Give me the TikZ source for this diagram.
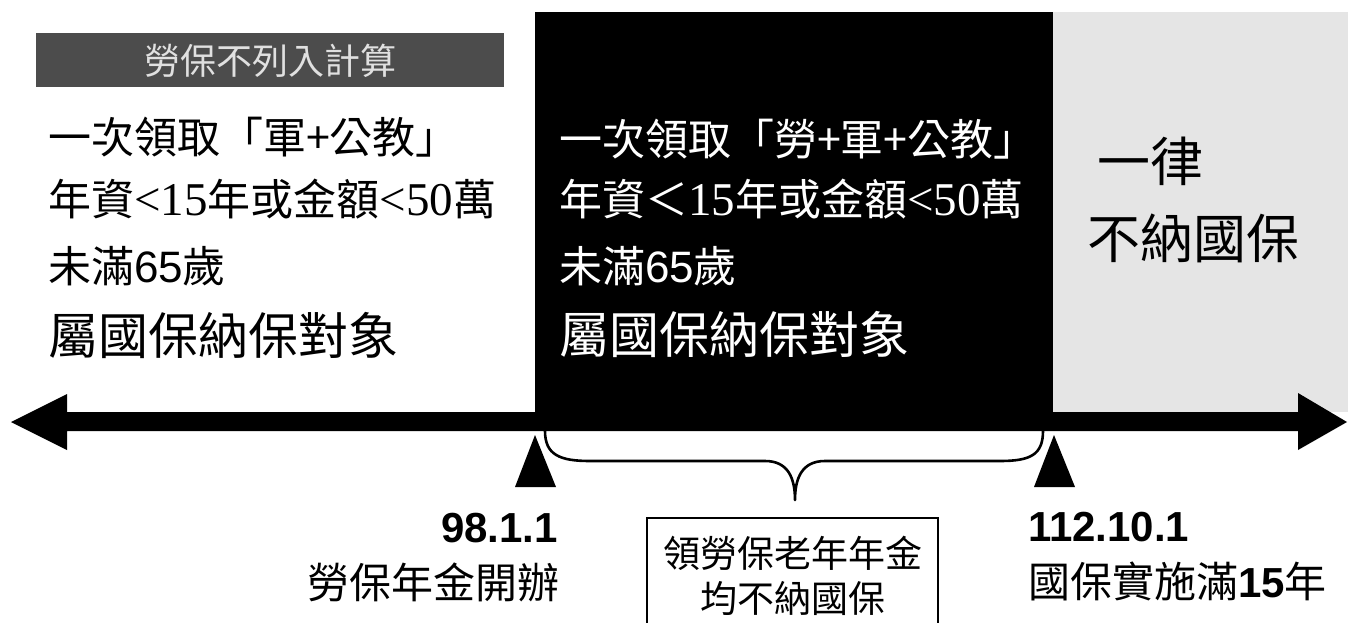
\documentclass[tikz,border=0pt]{standalone}
\usepackage{fontspec}
\setmainfont{Liberation Serif}
\setsansfont{Liberation Sans}
\newfontfamily\cjk{Noto Sans CJK TC}
\tikzset{
  txt/.style={inner sep=0pt, outer sep=0pt, font=\fontsize{43}{43}\selectfont\cjk},
  big/.style={inner sep=0pt, outer sep=0pt, font=\fontsize{50}{50}\selectfont\cjk},
  rbig/.style={inner sep=0pt, outer sep=0pt, font=\fontsize{53}{53}\selectfont\cjk},
  lab/.style={inner sep=0pt, outer sep=0pt, font=\fontsize{42}{42}\selectfont\cjk},
  datelab/.style={inner sep=0pt, outer sep=0pt, font=\fontsize{42}{42}\selectfont\sffamily\bfseries},
  boxtxt/.style={inner sep=0pt, outer sep=0pt, font=\fontsize{37}{37}\selectfont\cjk},
  marker/.style={fill=black, draw=none},
}
\newcommand{\serifpart}[1]{{\fontsize{47}{47}\selectfont\rmfamily #1}}
\newcommand{\sanspart}[1]{{\fontsize{44}{44}\selectfont\sffamily #1}}
\begin{document}
\begin{tikzpicture}[x=1pt,y=-1pt]
\useasboundingbox (0,0) rectangle (1348,623);
\fill[white] (0,0) rectangle (1348,623);
% background panels
\fill[black!70] (36,33) rectangle (504,87);
\node[txt, font=\fontsize{36}{36}\selectfont\cjk, text=black!12] (banner) at (270,61) {勞保不列入計算};
\fill[black] (535,12) rectangle (1053,412);
\fill[black!10] (1053,12) rectangle (1348,412);
% left text
\node[txt, anchor=west] (l1) at (48,137) {一次領取「軍+公教」};
\node[txt, anchor=west] (l2) at (48,199) {年資\serifpart{<15}年或金額\serifpart{<50}萬};
\node[txt, anchor=west] (l3) at (48,266) {未滿\sanspart{65}歲};
\node[big, anchor=west] (l4) at (48,335) {屬國保納保對象};
% middle text (white)
\node[txt, anchor=west, text=white] (m1) at (559,139) {一次領取「勞+軍+公教」};
\node[txt, anchor=west, text=white] (m2) at (559,199) {年資＜\serifpart{15}年或金額\serifpart{<50}萬};
\node[txt, anchor=west, text=white] (m3) at (559,266) {未滿\sanspart{65}歲};
\node[big, anchor=west, text=white] (m4) at (559,334) {屬國保納保對象};
% right text
\node[rbig, anchor=west] (r1) at (1097,161) {一律};
\node[rbig, anchor=west] (r2) at (1087,238) {不納國保};
% timeline arrow
\fill[black] (11,422) -- (67,394) -- (67,412) -- (1298,412) -- (1298,393)
  -- (1347,422) -- (1298,450) -- (1298,431) -- (67,431) -- (67,450) -- cycle;
% markers
\fill[marker] (535,435) -- (556,487) -- (515,487) -- cycle;
\fill[marker] (1054,435) -- (1075,487) -- (1034,487) -- cycle;
\coordinate (b1) at (545,431);
\coordinate (b2) at (1043,431);
\coordinate (btip) at (795,500);
% brace
\draw[line width=2.6pt, line join=round]
  (b1) .. controls (545,455) and (560,461) .. (590,461)
  -- (765,461) .. controls (788,461) and (795,478) .. (btip)
  .. controls (795,478) and (802,461) .. (825,461)
  -- (1000,461) .. controls (1030,461) and (1043,455) .. (b2);
% bottom box
\draw[line width=2pt] (647,518) rectangle (938,640);
\node[boxtxt] (bx1) at (793,553) {領勞保老年年金};
\node[boxtxt] (bx2) at (793,598) {均不納國保};
% date labels
\node[datelab, anchor=east] (d1) at (558,528) {98.1.1};
\node[lab, anchor=east] (d1t) at (559,582) {勞保年金開辦};
\node[datelab, anchor=west] (d2) at (1028,527) {112.10.1};
\node[lab, anchor=west] (d2t) at (1028,581) {國保實施滿{\sffamily\bfseries 15}年};
\end{tikzpicture}
\end{document}
